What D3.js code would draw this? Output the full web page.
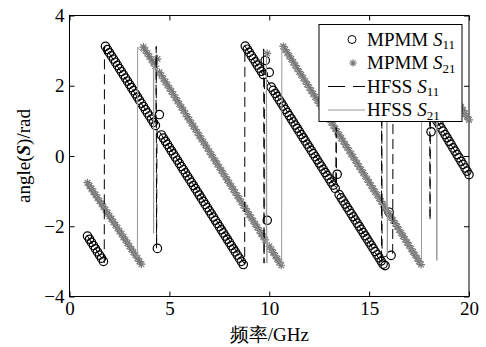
<!DOCTYPE html>
<html>
<head>
<meta charset="utf-8">
<script src="https://cdn.jsdelivr.net/npm/d3@7"></script>
<style>
  body { margin: 0; background: #fff; }
  text { font-family: "Liberation Serif", "Times New Roman", serif; }
</style>
</head>
<body>
<div id="chart"></div>
<script>
// MPMM results are sampled on a regular grid (GHz)
const freqStart = 0.9;
const freqStep = 0.1;

// angle(S11), MPMM, rad
const mpmmS11 = [
    -2.28, -2.37, -2.46, -2.55, -2.64, -2.73, -2.82, -2.91, -3.00,
    3.12, 3.03, 2.94, 2.85, 2.76, 2.67, 2.58, 2.49, 2.40, 2.31,
    2.22, 2.13, 2.04, 1.95, 1.86, 1.77, 1.68, 1.59, 1.50, 1.41,
    1.32, 1.23, 1.14, 1.05, 0.96, 0.87, -2.63, 1.18, 0.60, 0.51,
    0.42, 0.33, 0.24, 0.15, 0.06, -0.03, -0.12, -0.21, -0.30, -0.39,
    -0.48, -0.57, -0.66, -0.75, -0.84, -0.93, -1.02, -1.11, -1.20, -1.29,
    -1.38, -1.47, -1.56, -1.65, -1.74, -1.83, -1.92, -2.01, -2.10, -2.19,
    -2.28, -2.37, -2.46, -2.55, -2.64, -2.73, -2.82, -2.91, -3.00, -3.09,
    3.13, 3.04, 2.95, 2.86, 2.77, 2.68, 2.59, 2.50, 2.41, 2.32,
    2.72, -1.83, 2.38, 1.96, 1.87, 1.78, 1.69, 1.60, 1.51, 1.42,
    1.33, 1.24, 1.15, 1.06, 0.97, 0.88, 0.79, 0.70, 0.61, 0.52,
    0.43, 0.34, 0.25, 0.16, 0.07, -0.02, -0.11, -0.20, -0.29, -0.38,
    -0.47, -0.56, -0.65, -0.74, -0.83, -0.92, -0.52, -1.10, -1.19, -1.28,
    -1.37, -1.46, -1.55, -1.64, -1.73, -1.82, -1.91, -2.00, -2.09, -2.18,
    -2.27, -2.36, -2.45, -2.54, -2.63, -2.72, -2.81, -2.90, -2.99, -3.08,
    -3.12, 3.12, -1.60, -2.83,
    3.08, 2.99, 2.89, 2.80, 2.70, 2.61, 2.51, 2.42, 2.32, 2.23,
    2.13, 2.04, 1.94, 1.85, 1.75, 1.66, 1.56, 1.47, 1.37, 0.69,
    1.18, 1.09, 0.99, 0.90, 0.80, 0.71, 0.61, 0.52, 0.42, 0.33,
    0.23, 0.14, 0.04, -0.05, -0.15, -0.24, -0.34, -0.43, -0.53
];

// angle(S21), MPMM, rad
const mpmmS21 = [
    -0.76, -0.85, -0.93, -1.02, -1.10, -1.19, -1.28, -1.36, -1.45, -1.53,
    -1.62, -1.71, -1.79, -1.88, -1.96, -2.05, -2.14, -2.22, -2.31, -2.39,
    -2.48, -2.57, -2.65, -2.74, -2.82, -2.91, -3.00, -3.08,
    3.10, 3.01, 2.92, 2.83, 2.74, 2.65, 2.56, 2.76, 2.38, 2.29,
    2.20, 2.11, 2.02, 1.93, 1.84, 1.75, 1.66, 1.57, 1.48, 1.39,
    1.30, 1.21, 1.12, 1.03, 0.94, 0.85, 0.76, 0.67, 0.58, 0.49,
    0.40, 0.31, 0.22, 0.13, 0.04, -0.05, -0.14, -0.23, -0.32, -0.41,
    -0.50, -0.59, -0.68, -0.77, -0.86, -0.95, -1.04, -1.13, -1.22, -1.31,
    -1.40, -1.49, -1.58, -1.67, -1.76, -1.85, -1.94, -2.03, -2.12, -2.21,
    -2.30, -2.39, 2.92, -2.57, -2.66, -2.75, -2.84, -2.93, -3.02, -3.11,
    3.12, 3.03, 2.94, 2.85, 2.76, 2.67, 2.58, 2.49, 2.40, 2.31,
    2.22, 2.13, 2.04, 1.95, 1.86, 1.77, 1.68, 1.59, 1.50, 1.41,
    1.32, 1.23, 1.14, 1.05, 0.96, 0.87, 0.78, 0.69, 0.60, 0.51,
    0.42, 0.33, 0.24, 0.15, 0.06, -0.03, -0.12, -0.21, -0.30, -0.39,
    -0.48, -0.57, -0.66, -0.75, -0.84, -0.93, -1.02, -1.11, -1.20, -1.29,
    -1.38, -1.47, -1.56, -1.65, -1.74, -1.83, -1.92, -2.01, -2.10, -2.19,
    -2.28, -2.37, -2.46, -2.55, -2.64, -2.73, -2.82, -2.91, -3.00, -3.09,
    3.10, 3.01, 2.92, 2.83, 2.74, 2.65, 2.56, 2.47, 2.38, 2.29,
    2.20, 2.11, 2.02, 1.93, 1.84, 1.75, 1.66, 1.57, 1.48, 1.39,
    1.30, 1.21, 1.12, 1.03
];

// HFSS curves, read as break points of the traces
const hfssS11Freq = [0.9, 1.74, 1.75, 4.33, 4.34, 4.36, 4.38, 8.77, 8.78, 9.70, 9.72, 9.74, 9.76,
    13.33, 13.35, 13.37, 15.62, 15.63, 15.65, 16.18, 16.2, 18.03, 18.05, 18.07, 20];
const hfssS11 = [-2.28, -3.04, 3.13, 0.85, 3.12, -2.63, 0.80, -3.08, 3.13, 2.30, 3.05, -3.05, 2.27,
    -0.89, 0.88, -0.93, -3.05, 3.10, -2.90, -2.77, 3.08, 1.35, -1.83, 1.31, -0.53];

const hfssS21Freq = [0.9, 3.40, 3.41, 4.20, 4.21, 4.22, 9.85, 9.86, 9.88, 9.90, 10.62, 10.63,
    15.88, 15.89, 15.91, 15.93, 17.62, 17.63, 18.38, 18.39, 18.40, 20];
const hfssS21 = [-0.76, -2.90, 3.10, 2.60, -2.20, 2.59, -2.45, 2.93, -3.05, -2.50, -3.11, 3.12,
    -1.60, 3.00, -2.87, -1.65, -3.08, 3.10, 2.43, -2.97, 2.42, 1.03];

const xTicks = [0, 5, 10, 15, 20];
const yTicks = [-4, -2, 0, 2, 4];

const width = 486;
const height = 347;
const margin = { top: 15.5, right: 17, bottom: 50.5, left: 69.5 };

const svg = d3.select('#chart')
    .append('svg')
    .attr('width', width)
    .attr('height', height)
    .style('background', '#fff');

const x = d3.scaleLinear().domain([0, 20]).range([margin.left, width - margin.right]);
const y = d3.scaleLinear().domain([-4, 4]).range([height - margin.bottom, margin.top]);

const freqOf = i => +(freqStart + i * freqStep).toFixed(2);
const s11Points = mpmmS11.map((v, i) => [freqOf(i), v]);
const s21Points = mpmmS21.map((v, i) => [freqOf(i), v]);

const line = d3.line().x(d => x(d[0])).y(d => y(d[1]));

// MATLAB style '*' marker
const starPath = r => {
    const k = r * 0.72;
    return `M0,${-r}V${r}M${-r},0H${r}M${-k},${-k}L${k},${k}M${-k},${k}L${k},${-k}`;
};

// axes, ticks pointing inwards
const fontSize = 19;
const styleAxis = g => {
    g.attr('font-family', '"Liberation Serif", "Times New Roman", serif')
        .attr('font-size', fontSize);
    g.select('.domain').remove();
    g.selectAll('.tick line').attr('stroke', '#000');
    g.selectAll('.tick text').attr('fill', '#000');
};

svg.append('g')
    .attr('transform', `translate(0,${y(-4)})`)
    .call(d3.axisBottom(x).tickValues(xTicks).tickSize(-5).tickPadding(5))
    .call(styleAxis);

svg.append('g')
    .attr('transform', `translate(0,${y(4)})`)
    .call(d3.axisTop(x).tickValues(xTicks).tickSize(-5).tickFormat(''))
    .call(styleAxis);

svg.append('g')
    .attr('transform', `translate(${x(0)},0)`)
    .call(d3.axisLeft(y).tickValues(yTicks).tickSize(-5).tickPadding(5))
    .call(styleAxis);

svg.append('g')
    .attr('transform', `translate(${x(20)},0)`)
    .call(d3.axisRight(y).tickValues(yTicks).tickSize(-5).tickFormat(''))
    .call(styleAxis);

svg.append('rect')
    .attr('x', x(0))
    .attr('y', y(4))
    .attr('width', x(20) - x(0))
    .attr('height', y(-4) - y(4))
    .attr('fill', 'none')
    .attr('stroke', '#000')
    .attr('stroke-width', 1);

// MPMM markers
svg.append('g')
    .selectAll('circle')
    .data(s11Points)
    .enter()
    .append('circle')
    .attr('cx', d => x(d[0]))
    .attr('cy', d => y(d[1]))
    .attr('r', 4.2)
    .attr('fill', 'none')
    .attr('stroke', '#000')
    .attr('stroke-width', 1.2);

svg.append('g')
    .selectAll('path')
    .data(s21Points)
    .enter()
    .append('path')
    .attr('transform', d => `translate(${x(d[0])},${y(d[1])})`)
    .attr('d', starPath(4))
    .attr('stroke', '#777')
    .attr('stroke-width', 1.2)
    .attr('fill', 'none');

// HFSS traces
svg.append('path')
    .datum(hfssS11Freq.map((f, i) => [f, hfssS11[i]]))
    .attr('d', line)
    .attr('fill', 'none')
    .attr('stroke', '#000')
    .attr('stroke-width', 1)
    .attr('stroke-dasharray', '10,5');

svg.append('path')
    .datum(hfssS21Freq.map((f, i) => [f, hfssS21[i]]))
    .attr('d', line)
    .attr('fill', 'none')
    .attr('stroke', '#999')
    .attr('stroke-width', 1);

// legend
const legend = svg.append('g');
legend.append('rect')
    .attr('x', 319)
    .attr('y', 24.5)
    .attr('width', 143)
    .attr('height', 97)
    .attr('fill', '#fff')
    .attr('stroke', '#000')
    .attr('stroke-width', 1);

const legendItems = [
    { name: 'MPMM', sub: '11', kind: 'circle' },
    { name: 'MPMM', sub: '21', kind: 'star' },
    { name: 'HFSS', sub: '11', kind: 'dash' },
    { name: 'HFSS', sub: '21', kind: 'gray' }
];

legendItems.forEach((item, i) => {
    const cy = 39.5 + i * 23.5;
    if (item.kind === 'circle') {
        legend.append('circle').attr('cx', 352).attr('cy', cy).attr('r', 4)
            .attr('fill', 'none').attr('stroke', '#000');
    } else if (item.kind === 'star') {
        legend.append('path').attr('transform', `translate(353,${cy})`).attr('d', starPath(3.8))
            .attr('stroke', '#777').attr('stroke-width', 1.1);
    } else {
        legend.append('line').attr('x1', 328).attr('x2', 365).attr('y1', cy).attr('y2', cy)
            .attr('stroke', item.kind === 'dash' ? '#000' : '#999')
            .attr('stroke-dasharray', item.kind === 'dash' ? '17,8' : null);
    }
    const t = legend.append('text')
        .attr('x', 367)
        .attr('y', cy + 6)
        .attr('font-size', fontSize)
        .attr('fill', '#000');
    t.append('tspan').text(item.name + ' ');
    t.append('tspan').attr('font-style', 'italic').text('S');
    t.append('tspan').attr('font-size', 13).attr('dy', 3.5).text(item.sub);
});

// axis titles
svg.append('text')
    .attr('x', (x(0) + x(20)) / 2)
    .attr('y', 341)
    .attr('text-anchor', 'middle')
    .attr('font-size', fontSize)
    .attr('font-family', '"Liberation Serif", "Noto Sans CJK SC", serif')
    .text('频率/GHz');

const yTitle = svg.append('text')
    .attr('transform', `translate(30,${(y(-4) + y(4)) / 2}) rotate(-90)`)
    .attr('text-anchor', 'middle')
    .attr('font-size', fontSize);
yTitle.append('tspan').text('angle(');
yTitle.append('tspan').attr('font-weight', 'bold').attr('font-style', 'italic').text('S');
yTitle.append('tspan').text(')/rad');
</script>
</body>
</html>
